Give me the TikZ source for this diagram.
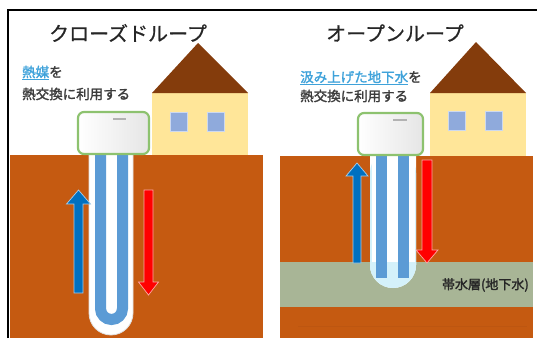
\documentclass[tikz,border=0pt]{standalone}
\usepackage{fontspec}
\newfontfamily\jpfont[FakeBold=0.6]{Noto Sans CJK JP}
\newfontfamily\jpheavy[FakeBold=1.8]{Noto Sans CJK JP}

\definecolor{soil}{HTML}{C55A11}
\definecolor{soilline}{HTML}{BD5611}
\definecolor{aquifer}{HTML}{A8B596}
\definecolor{roof}{HTML}{843C0C}
\definecolor{wall}{HTML}{FFE699}
\definecolor{windowblue}{HTML}{8FAADC}
\definecolor{pipe}{HTML}{5B9BD5}
\definecolor{coldflow}{HTML}{0070C0}
\definecolor{hotflow}{HTML}{FF0000}
\definecolor{unitgreen}{HTML}{8DC26F}
\definecolor{linkblue}{HTML}{3FA2DA}
\definecolor{ink}{HTML}{262626}
\definecolor{welltint}{HTML}{D4F1FA}

\tikzset{
  soilfill/.style={fill=soil},
  wallfill/.style={fill=wall},
  rooffill/.style={fill=roof},
  windowpane/.style={fill=windowblue, draw=windowblue!45!white, line width=1pt},
  heatpump/.style={draw=unitgreen, line width=2.2pt, rounded corners=6pt,
    left color=white, right color=black!10},
  unitmark/.style={draw=black!30, line width=1.2pt},
  pipefill/.style={fill=pipe},
  coldarrow/.style={fill=coldflow, draw=coldflow!35!white, line width=0.7pt},
  hotarrow/.style={fill=hotflow, draw=hotflow!35!white, line width=0.7pt},
  titletext/.style={font=\jpfont\fontsize{20}{24}\selectfont, text=ink, inner sep=0pt},
  notetext/.style={font=\jpheavy\fontsize{13.5}{16}\selectfont, text=ink!90, inner sep=0pt, anchor=west},
  frame/.style={draw=black, line width=1.5pt}
}

\begin{document}
\begin{tikzpicture}[x=1pt,y=-1pt]
\useasboundingbox (0,0) rectangle (537,338);

% ---------- ground ----------
\fill[soilfill] (10,155) rectangle (263,338);
\fill[soilfill] (280,156) rectangle (533,338);
\fill[aquifer] (280,262) rectangle (533,307);
\draw[soilline, line width=0.8pt] (298,326) -- (527,326);

% ---------- closed loop well ----------
\fill[white, draw=black!12, line width=0.8pt, rounded corners=22pt]
  (89,150) -- (89,335) -- (133,335) -- (133,150);
\draw[pipe, line width=11pt, rounded corners=11pt]
  (100.5,150) -- (100.5,319.5) -- (122.5,319.5) -- (122.5,150);

% ---------- open loop well ----------
\fill[white, rounded corners=23pt]
  (370,150) -- (370,288) -- (416,288) -- (416,150);
\begin{scope}
  \clip[rounded corners=23pt] (370,150) -- (370,288) -- (416,288) -- (416,150) -- cycle;
  \fill[welltint] (360,262) rectangle (426,300);
  \draw[welltint, line width=3pt] (370,150) -- (370,300) (416,150) -- (416,300);
\end{scope}
\fill[pipefill] (376,150) rectangle (387,278);
\fill[pipefill] (398,150) rectangle (409,278);

% ---------- heat pump units ----------
\shade[heatpump] (78,112) rectangle (149,154);
\draw[unitmark] (113,119) -- (126,119);
\shade[heatpump] (358,113) rectangle (423,155);
\draw[unitmark] (393,120) -- (407,120);

% ---------- houses ----------
\fill[wallfill] (152,93) rectangle (248,155);
\fill[rooffill] (152,93) -- (198,43) -- (248,93) -- cycle;
\draw[windowpane] (170,112) rectangle (187,131);
\draw[windowpane] (207,112) rectangle (224,131);

\fill[wallfill] (430,93) rectangle (526,156);
\fill[rooffill] (430,93) -- (476,42) -- (526,93) -- cycle;
\draw[windowpane] (448,111) rectangle (465,130);
\draw[windowpane] (485,111) rectangle (502,130);

% ---------- flow arrows ----------
\path[coldarrow] (74,293) -- (74,204) -- (66.5,204) -- (78.5,190) -- (90.5,204) -- (83,204) -- (83,293) -- cycle;
\path[hotarrow] (144,190) -- (144,282) -- (138.5,282) -- (148.5,295) -- (158.5,282) -- (153,282) -- (153,190) -- cycle;
\path[coldarrow] (353,263) -- (353,176) -- (346,176) -- (357,163) -- (368,176) -- (361,176) -- (361,263) -- cycle;
\path[hotarrow] (422,160) -- (422,250) -- (416,250) -- (427,263) -- (438,250) -- (432,250) -- (432,160) -- cycle;

% ---------- texts ----------
\node[titletext] (titleL) at (128,33) {クローズドループ};
\node[titletext] (titleR) at (395,33) {オープンループ};

\node[notetext] (noteL1) at (22,73) {{\color{linkblue}\underline{熱媒}}を};
\node[notetext] (noteL2) at (22,94) {熱交換に利用する};
\node[notetext] (noteR1) at (300,78) {{\color{linkblue}\underline{汲み上げた地下水}}を};
\node[notetext] (noteR2) at (300,96) {熱交換に利用する};

\node[notetext, anchor=east, font=\jpheavy\fontsize{13}{16}\selectfont, text=ink] (aqlabel) at (529,285) {帯水層(地下水)};

% ---------- frame ----------
\draw[frame] (8,338) -- (8,10) -- (537,10);
\end{tikzpicture}
\end{document}
